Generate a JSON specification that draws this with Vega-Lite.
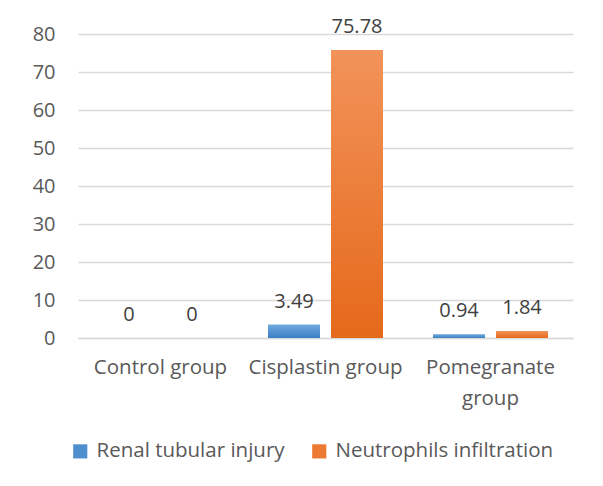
{
  "$schema": "https://vega.github.io/schema/vega-lite/v6.json",
  "autosize": "none",
  "width": 495,
  "height": 304,
  "padding": {"left": 78, "top": 34, "right": 30, "bottom": 148},
  "background": "white",
  "config": {
    "view": {"stroke": null},
    "font": "Open Sans",
    "axis": {"labelFont": "Open Sans", "labelColor": "#595959", "labelFontSize": 20.5}
  },
  "data": {
    "values": [
      {"group": "Control group", "series": "Renal tubular injury", "value": 0},
      {"group": "Control group", "series": "Neutrophils infiltration", "value": 0},
      {"group": "Cisplastin group", "series": "Renal tubular injury", "value": 3.49},
      {"group": "Cisplastin group", "series": "Neutrophils infiltration", "value": 75.78},
      {"group": "Pomegranate group", "series": "Renal tubular injury", "value": 0.94},
      {"group": "Pomegranate group", "series": "Neutrophils infiltration", "value": 1.84}
    ]
  },
  "encoding": {
    "x": {
      "field": "group", "type": "nominal", "sort": null, "title": null,
      "scale": {"paddingInner": 0, "paddingOuter": 0},
      "axis": {
        "labelAngle": 0, "ticks": false, "domainColor": "#d9d9d9", "domainWidth": 1.5,
        "labelPadding": 19, "labelLineHeight": 31, "labelBaseline": "top", "labelLimit": 0,
        "labelExpr": "datum.label == 'Pomegranate group' ? ['Pomegranate', 'group'] : datum.label"
      }
    },
    "xOffset": {
      "field": "series", "type": "nominal",
      "scale": {"domain": ["Renal tubular injury", "Neutrophils infiltration"], "paddingInner": 0.175, "paddingOuter": 0.397}
    },
    "y": {
      "field": "value", "type": "quantitative", "title": null,
      "scale": {"domain": [0, 80], "nice": false},
      "axis": {
        "values": [0, 10, 20, 30, 40, 50, 60, 70, 80], "domain": false, "ticks": false,
        "labelFontSize": 20, "labelPadding": 23, "gridColor": "#d9d9d9", "gridWidth": 1.5
      }
    }
  },
  "layer": [
    {
      "mark": {"type": "bar"},
      "encoding": {
        "color": {
          "field": "series", "type": "nominal",
          "scale": {
            "domain": ["Renal tubular injury", "Neutrophils infiltration"],
            "range": ["#4F8FD0", "#EC7A32"]
          },
          "legend": {
            "title": null, "orient": "none", "direction": "horizontal",
            "legendX": -8, "legendY": 407,
            "symbolType": "square", "symbolSize": 200, "symbolStrokeWidth": 0,
            "labelFont": "Open Sans", "labelFontSize": 20.5, "labelColor": "#595959", "labelLimit": 0,
            "columnPadding": 24, "labelOffset": 6
          }
        }
      }
    },
    {
      "transform": [{"filter": "datum.series == 'Renal tubular injury'"}],
      "mark": {"type": "bar", "color": {"gradient": "linear", "x1": 0, "y1": 0, "x2": 0, "y2": 1, "stops": [{"offset": 0, "color": "#6FA8DC"}, {"offset": 1, "color": "#3A7FC4"}]}},
      "encoding": {}
    },
    {
      "transform": [{"filter": "datum.series == 'Neutrophils infiltration'"}],
      "mark": {"type": "bar", "color": {"gradient": "linear", "x1": 0, "y1": 0, "x2": 0, "y2": 1, "stops": [{"offset": 0, "color": "#F2935A"}, {"offset": 1, "color": "#E5691A"}]}},
      "encoding": {}
    },
    {
      "mark": {"type": "text", "baseline": "alphabetic", "dy": -17, "fontSize": 20, "color": "#404040", "font": "Open Sans"},
      "encoding": {"text": {"field": "value", "type": "quantitative"}}
    }
  ]
}
